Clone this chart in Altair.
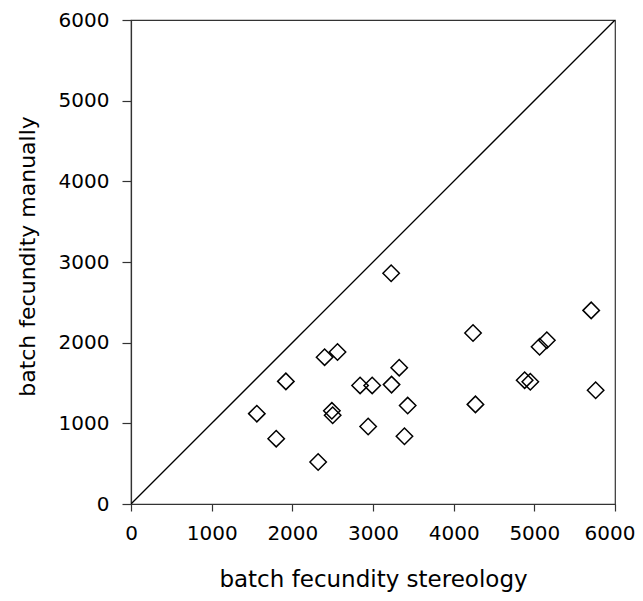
import altair as alt
import pandas as pd

stereology = [1560, 1800, 1920, 2320, 2400, 2560, 2490, 2500, 2840, 2990, 2940,
              3225, 3230, 3325, 3430, 3390, 4240, 4270, 4880, 4950, 5065, 5155, 5705, 5760]
manually = [1120, 810, 1520, 520, 1820, 1885, 1155, 1100, 1470, 1470, 960,
            2860, 1480, 1690, 1220, 840, 2120, 1235, 1535, 1515, 1950, 2030, 2400, 1410]
line_vals = [0, 6000]
tick_vals = [0, 1000, 2000, 3000, 4000, 5000, 6000]

pts = pd.DataFrame({"s": stereology, "m": manually})
diag = pd.DataFrame({"s": line_vals, "m": line_vals})

font = "DejaVu Sans"
xscale = alt.Scale(domain=[0, 6000], nice=False, zero=False)
yscale = alt.Scale(domain=[0, 6000], nice=False, zero=False)

common = dict(grid=False, tickColor="#333", domainColor="#333", tickWidth=1.2, domainWidth=1.2,
              labelFont=font, labelFontSize=20, labelColor="black", labelFlush=False,
              titleFont=font, titleFontWeight="normal", titleColor="black",
              values=tick_vals, format="d")
xaxis = alt.Axis(title="batch fecundity stereology", tickSize=7, labelPadding=12,
                 titleFontSize=23, titlePadding=25,
                 labelAlign={"condition": {"test": "datum.value == 6000", "value": "right"}, "value": "center"},
                 labelOffset={"condition": {"test": "datum.value == 6000", "value": 20}, "value": 0},
                 **common)
yaxis = alt.Axis(title="batch fecundity manually", tickSize=9, labelPadding=13,
                 titleFontSize=22, titlePadding=19, titleY=236, **common)

line = alt.Chart(diag).mark_line(color="black", strokeWidth=1.3, clip=True).encode(
    x=alt.X("s:Q", scale=xscale, axis=xaxis),
    y=alt.Y("m:Q", scale=yscale, axis=yaxis),
)
points = alt.Chart(pts).mark_point(shape="diamond", size=270, filled=False, color="black",
                                   strokeWidth=1.5, opacity=1).encode(
    x=alt.X("s:Q", scale=xscale, axis=xaxis),
    y=alt.Y("m:Q", scale=yscale, axis=yaxis),
)

chart = alt.layer(line, points).properties(
    width=484, height=484,
    background="white",
    autosize=alt.AutoSizeParams(type="none"),
    padding={"left": 123, "top": 12, "right": 20, "bottom": 88},
).configure_view(stroke="#333", strokeWidth=1.2)

chart.save("out.html", embed_options={"renderer": "svg", "actions": False})
